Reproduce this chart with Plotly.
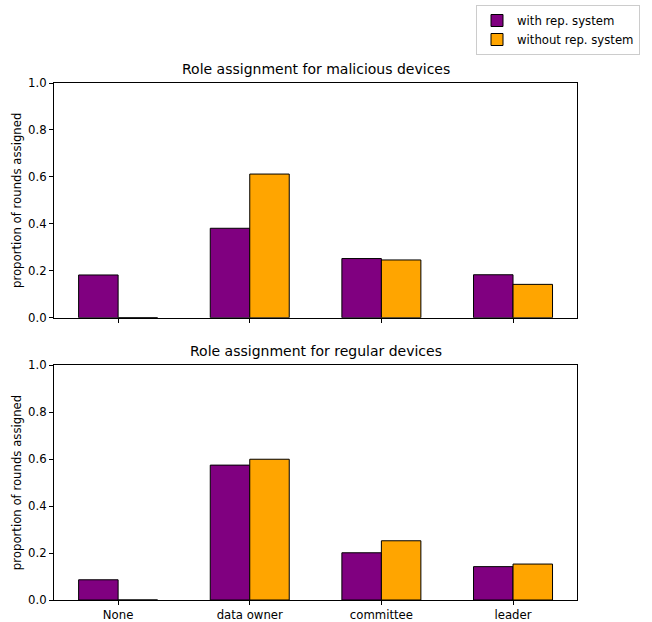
import plotly.graph_objects as go
from plotly.subplots import make_subplots

roles = ["None", "data owner", "committee", "leader"]
series_names = ["with rep. system", "without rep. system"]
series_colors = ["purple", "orange"]

malicious_with = [0.182, 0.381, 0.252, 0.183]
malicious_without = [0.0, 0.612, 0.246, 0.142]
regular_with = [0.086, 0.574, 0.201, 0.142]
regular_without = [0.0, 0.599, 0.252, 0.153]

panel_titles = ["Role assignment for malicious devices", "Role assignment for regular devices"]
y_label = "proportion of rounds assigned"
y_ticks = [0.0, 0.2, 0.4, 0.6, 0.8, 1.0]

FONT = "DejaVu Sans"
W, H = 652, 622
ML, MR, MT, MB = 54, 75, 83, 22
plot_h = H - MT - MB

fig = make_subplots(rows=2, cols=1, shared_xaxes=False, vertical_spacing=0.0)

panels = [(malicious_with, malicious_without), (regular_with, regular_without)]
for row, (vals_a, vals_b) in enumerate(panels, start=1):
    for k, vals in enumerate((vals_a, vals_b)):
        fig.add_trace(
            go.Bar(
                x=roles, y=vals, name=series_names[k],
                marker=dict(color=series_colors[k], line=dict(color="black", width=1)),
                offsetgroup=str(k), showlegend=(row == 1),
                legendgroup=series_names[k],
            ),
            row=row, col=1,
        )

top_dom = [(H - MB - 317.7) / plot_h, 1.0]
bot_dom = [0.0, (H - MB - 365) / plot_h]

axis_common = dict(
    showline=True, linecolor="black", linewidth=1, mirror=True,
    ticks="outside", ticklen=4, tickcolor="black", showgrid=False, zeroline=False,
    tickfont=dict(family=FONT, size=11.7, color="black"),
)

fig.update_layout(
    xaxis=dict(**axis_common, range=[-0.487, 3.486], showticklabels=False, anchor="y"),
    xaxis2=dict(**axis_common, range=[-0.487, 3.486], anchor="y2"),
    yaxis=dict(**axis_common, range=[0, 1], tickvals=y_ticks, tickformat=".1f", domain=top_dom,
               title=dict(text=y_label, font=dict(family=FONT, size=11.7, color="black"), standoff=3)),
    yaxis2=dict(**axis_common, range=[0, 1], tickvals=y_ticks, tickformat=".1f", domain=bot_dom,
                title=dict(text=y_label, font=dict(family=FONT, size=11.7, color="black"), standoff=3)),
    barmode="group", bargap=0.4, bargroupgap=0.0,
    width=W, height=H,
    margin=dict(l=ML, r=MR, t=MT, b=MB, autoexpand=False),
    plot_bgcolor="white", paper_bgcolor="white",
    font=dict(family=FONT, size=11.7, color="black"),
    legend=dict(
        x=(640 - ML) / (W - ML - MR), y=1 + (MT - 5) / plot_h,
        xanchor="right", yanchor="top",
        bordercolor="#cccccc", borderwidth=1, bgcolor="white",
        font=dict(family=FONT, size=11.7, color="black"),
        tracegroupgap=0,
    ),
)

for dom, text in zip((top_dom, bot_dom), panel_titles):
    fig.add_annotation(
        text=text, xref="paper", yref="paper", x=0.5, y=dom[1],
        xanchor="center", yanchor="bottom", yshift=4, showarrow=False,
        font=dict(family=FONT, size=14, color="black"),
    )

fig.write_html("out.html")
